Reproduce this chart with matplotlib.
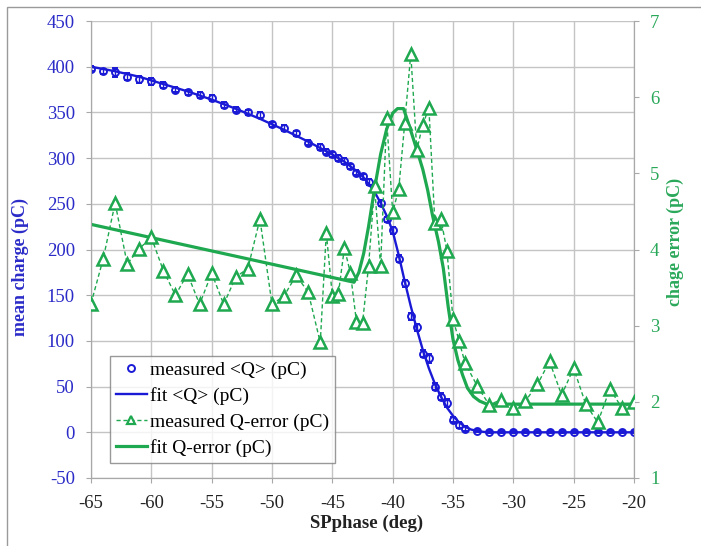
import matplotlib
matplotlib.use("Agg")
import matplotlib.pyplot as plt
from matplotlib.lines import Line2D
from matplotlib.patches import Rectangle

plt.rcParams['font.family'] = ['Liberation Serif', 'DejaVu Serif']
plt.rcParams['axes.unicode_minus'] = False

BLUE = "#1A1AD6"
BLUE_TXT = "#2B2BC8"
GREEN = "#1EA84F"
GREEN_TXT = "#2AA85A"
GRID = "#C4C4C4"
AXIS = "#A8A8A8"

# SP phase scan points (deg)
phase = ([-65, -64, -63, -62, -61, -60, -59, -58, -57, -56, -55, -54, -53, -52,
          -51, -50, -49, -48, -47, -46,
          -45.5, -45, -44.5, -44, -43.5, -43, -42.5, -42, -41.5, -41, -40.5, -40,
          -39.5, -39, -38.5, -38, -37.5, -37, -36.5, -36, -35.5, -35, -34.5, -34,
          -33, -32, -31, -30, -29, -28, -27, -26, -25, -24, -23, -22, -21, -20])

# measured mean charge <Q> (pC)
q_mean = [398, 395, 394, 389, 386, 384, 380, 375, 372, 369, 366, 358, 353, 350,
          347, 337, 333, 327, 317, 312,
          307, 304, 300, 297, 291, 284, 280, 274, 267, 251, 233, 221,
          190, 163, 127, 115, 86, 81, 50, 39, 32, 14, 8, 4,
          1, 0, 0, 0, 0, 0, 0, 0, 0, 0, 0, 0, 0, 0]

# uncertainty on <Q> (pC)
q_sigma = [3, 3, 5, 4, 4, 4, 3, 3, 3, 3, 3, 3, 3, 3,
           3, 3, 3, 3, 3, 3,
           3, 3, 3, 3, 3, 3, 3, 3, 3, 3, 3, 4,
           4, 4, 4, 4, 4, 5, 4, 4, 4, 3, 3, 3,
           1, 1, 1, 1, 1, 1, 1, 1, 1, 1, 1, 1, 1, 1]

# measured charge error (pC)
q_error = [3.29, 3.87, 4.61, 3.81, 4.01, 4.16, 3.72, 3.40, 3.68, 3.28, 3.69, 3.28, 3.64, 3.75,
           4.40, 3.28, 3.39, 3.66, 3.44, 2.78,
           4.22, 3.39, 3.42, 4.02, 3.69, 3.05, 3.03, 3.78, 4.83, 3.78, 5.72, 4.49,
           4.79, 5.66, 6.57, 5.31, 5.64, 5.86, 4.35, 4.40, 3.98, 3.09, 2.80, 2.51,
           2.21, 1.96, 2.03, 1.92, 2.01, 2.23, 2.53, 2.09, 2.44, 1.97, 1.73, 2.17, 1.92, 2.00]

# fitted <Q> curve
fit_q_phase = [-65, -63, -61, -59, -57, -55, -53, -51, -49, -47, -46, -45, -44, -43,
               -42.5, -42, -41.5, -41, -40.5, -40, -39.5, -39, -38.5, -38, -37.5, -37,
               -36.5, -36, -35.5, -35, -34.5, -34, -33.5, -33, -32.5, -32, -20]
fit_q = [400, 395, 389, 381, 373, 364, 354, 343, 331, 318, 311, 304, 296, 286,
         280, 272, 263, 251, 237, 220, 194, 165, 138, 113, 90, 70,
         53, 39, 27, 18, 11, 6, 3, 1.5, 0.5, 0, 0]

# fitted Q-error curve
fit_err_phase = [-65, -43.2, -42.8, -42.4, -42, -41.5, -41, -40.5, -40, -39.6, -39.1,
                 -38.7, -38.3, -37.9, -37.5, -37.1, -36.7, -36.2, -35.8, -35.4, -35.0,
                 -34.6, -34.2, -33.8, -33.3, -32.8, -32.2, -20]
fit_err = [4.33, 3.57, 3.70, 3.95, 4.30, 4.80, 5.25, 5.58, 5.79, 5.85, 5.85,
           5.66, 5.46, 5.26, 5.05, 4.78, 4.45, 4.10, 3.75, 3.25, 2.82,
           2.55, 2.35, 2.18, 2.07, 2.01, 1.97, 1.97]

fig = plt.figure(figsize=(7.01, 5.46), dpi=100)
ax = fig.add_axes([91 / 701, 68 / 546, 543 / 701, 457 / 546])
ax2 = ax.twinx()

ax.set_xlim(-65, -20)
ax.set_ylim(-50, 450)
ax2.set_ylim(1, 7)
ax.set_xticks(range(-65, -19, 5))
ax.set_yticks(range(-50, 451, 50))
ax2.set_yticks(range(1, 8))

ax.grid(True, color=GRID, lw=1.0)
ax.set_axisbelow(True)
for a in (ax, ax2):
    for s in a.spines.values():
        s.set_color(AXIS)
    a.spines['top'].set_visible(False)
ax.tick_params(axis='both', direction='out', length=3.6, color=AXIS, labelsize=13.5)
ax.tick_params(axis='y', labelcolor=BLUE_TXT, pad=8)
ax.tick_params(axis='x', labelcolor="#222222", pad=8.5)
ax2.tick_params(axis='y', direction='out', length=3.6, color=AXIS, labelsize=13.5,
                labelcolor=GREEN_TXT, pad=8)

ax.set_xlabel("SPphase (deg)", fontsize=13.5, fontweight='bold', color="#222222")
ax.set_ylabel("mean charge (pC)", fontsize=13, fontweight='bold', color=BLUE_TXT)
ax2.set_ylabel("chage error (pC)", fontsize=13, fontweight='bold', color=GREEN_TXT)
ax.xaxis.set_label_coords(0.508, -0.08)
ax.yaxis.set_label_coords(-0.114, 0.462)
ax2.yaxis.set_label_coords(1.061, 0.516)

# charge series
ax.plot(fit_q_phase, fit_q, color=BLUE, lw=1.7, zorder=3)
ax.errorbar(phase, q_mean, yerr=q_sigma, fmt='o', ms=5, mfc='none', mec=BLUE, mew=1.4,
            ecolor=BLUE, elinewidth=1.0, capsize=2, zorder=4)

# error series
ax2.plot(phase, q_error, color=GREEN, lw=1.0, ls=(0, (3, 2)), marker='^', ms=8,
         mfc='white', mec=GREEN, mew=1.8, zorder=3)
ax2.plot(fit_err_phase, fit_err, color=GREEN, lw=2.3, zorder=2)

handles = [
    Line2D([], [], ls='none', marker='o', ms=5, mfc='none', mec=BLUE, mew=1.4),
    Line2D([], [], color=BLUE, lw=1.7),
    Line2D([], [], color=GREEN, lw=1.0, ls=(0, (3, 2)), marker='^', ms=6,
           mfc='white', mec=GREEN, mew=1.6),
    Line2D([], [], color=GREEN, lw=2.3),
]
labels = ["measured <Q> (pC)", "fit <Q> (pC)", "measured Q-error (pC)", "fit Q-error (pC)"]
leg = ax2.legend(handles, labels, loc='lower left', bbox_to_anchor=(0.035, 0.033),
                 borderaxespad=0, fontsize=14, frameon=True, fancybox=False,
                 edgecolor="#808080", handlelength=1.6, handletextpad=0.15,
                 labelspacing=0.42, borderpad=0.3)
leg.get_frame().set_linewidth(1.0)

# outer frame (left and top edges visible)
fig.add_artist(Rectangle((7 / 701, -0.01), 1.02, 1.01 - 7 / 546, transform=fig.transFigure,
                         fill=False, edgecolor="#9A9A9A", lw=1.0))

fig.savefig("out.png", dpi=100)
